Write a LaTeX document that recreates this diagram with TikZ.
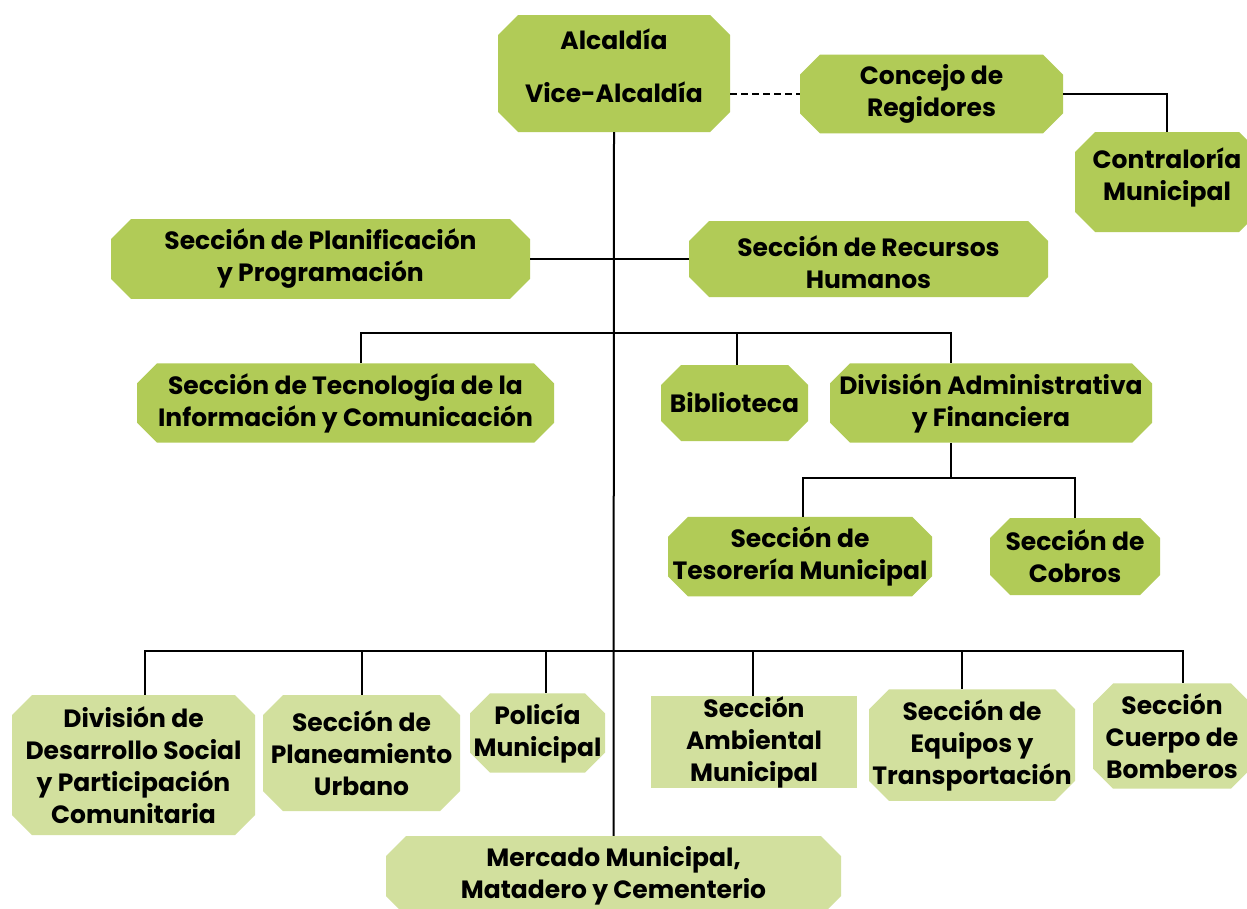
\documentclass[tikz,border=0pt]{standalone}
\usepackage{fontspec}
\setmainfont{Poppins}
\usetikzlibrary{shapes.misc}
\definecolor{dgreen}{HTML}{B1CB57}
\definecolor{lgreen}{HTML}{D2E09E}
\newcommand\shtext[2]{\raisebox{#1}[\height][\depth]{\begin{tabular}{@{}c@{}}#2\end{tabular}}}
\begin{document}
\begin{tikzpicture}[x=1pt,y=-1pt,
  txt/.style={inner sep=0pt, align=center, font=\fontsize{25}{32}\selectfont\bfseries, text=black},
  box/.style={txt, chamfered rectangle, chamfered rectangle xsep=10pt, chamfered rectangle ysep=10pt, inner xsep=-10pt},
  dbox/.style={box, fill=dgreen},
  lbox/.style={box, fill=lgreen},
  conn/.style={line width=2pt, black}]
\useasboundingbox (0,0) rectangle (1247,908);
\clip (0,0) rectangle (1247,908);
\fill[white] (0,0) rectangle (1247,908);
% nodes
\node[dbox, minimum width=232pt, minimum height=117pt] (alc) at (614,73.5) {\shtext{4pt}{Alcaldía\\[21pt]Vice-Alcaldía}};
\node[dbox, minimum width=263pt, minimum height=76pt] (con) at (931.5,94) {Concejo de\\Regidores};
\node[dbox, minimum width=184pt, minimum height=100pt] (ctr) at (1167,182) {\shtext{4pt}{Contraloría\\Municipal}};
\node[dbox, minimum width=419pt, minimum height=76pt] (pla) at (320.5,259) {Sección de Planificación\\y Programación};
\node[dbox, inner ysep=-8pt, minimum width=359pt, minimum height=76pt] (rrh) at (868.5,259) {\shtext{-7pt}{Sección de Recursos\\Humanos}};
\node[dbox, minimum width=417pt, minimum height=76pt] (tec) at (345.5,403) {Sección de Tecnología de la\\Información y Comunicación};
\node[dbox, minimum width=147pt, minimum height=76pt] (bib) at (734.5,403) {Biblioteca};
\node[dbox, minimum width=322pt, minimum height=76pt] (dadm) at (991,403) {División Administrativa\\y Financiera};
\node[dbox, minimum width=264pt, minimum height=77pt] (tes) at (800,556.5) {Sección de\\Tesorería Municipal};
\node[dbox, minimum width=170pt, minimum height=77pt] (cob) at (1075,556.5) {Sección de\\Cobros};
\node[lbox, minimum width=243pt, minimum height=140pt] (dds) at (133.5,765) {División de\\Desarrollo Social\\y Participación\\Comunitaria};
\node[lbox, minimum width=197pt, minimum height=116pt] (pu) at (361.5,753) {Sección de\\Planeamiento\\Urbano};
\node[lbox, minimum width=135pt, minimum height=76pt] (pol) at (537.5,733) {Policía\\Municipal};
\node[txt, rectangle, fill=lgreen, minimum width=206pt, minimum height=90pt] (amb) at (754,742) {Sección\\Ambiental\\Municipal};
\node[lbox, minimum width=206pt, minimum height=100pt] (eq) at (972,745) {Sección de\\Equipos y\\Transportación};
\node[lbox, minimum width=158pt, minimum height=98pt] (bom) at (1172,736) {Sección\\Cuerpo de\\Bomberos};
\node[lbox, minimum width=455pt, minimum height=80pt] (mer) at (613.5,876) {Mercado Municipal,\\Matadero y Cementerio};
% bus coordinates
\coordinate (bus1) at (0,333);
\coordinate (bus2) at (0,478);
\coordinate (bus3) at (0,651);
% connectors
\draw[conn] (alc.south) -- (mer.north);
\draw[conn, line width=1.5pt, dash pattern=on 7pt off 4pt] (con.west -| alc.east) -- (con.west);
\draw[conn] (con.east) -| (ctr.north);
\draw[conn] (pla.east) -- (rrh.west);
\draw[conn] ([xshift=15pt]tec.north) |- ([xshift=-40pt]dadm.north |- bus1) -- ([xshift=-40pt]dadm.north);
\draw[conn] ([xshift=2pt]bib.north) -- ([xshift=2pt]bib.north |- bus1);
\draw[conn] ([xshift=-40pt]dadm.south) -- ([xshift=-40pt]dadm.south |- bus2);
\draw[conn] ([xshift=3pt]tes.north) |- (cob.north |- bus2) -- (cob.north);
\draw[conn] ([xshift=11.5pt]dds.north) |- ([xshift=11pt]bom.north |- bus3) -- ([xshift=11pt]bom.north);
\draw[conn] (pu.north) -- (pu.north |- bus3);
\draw[conn] ([xshift=8.5pt]pol.north) -- ([xshift=8.5pt]pol.north |- bus3);
\draw[conn] ([xshift=-1pt]amb.north) -- ([xshift=-1pt]amb.north |- bus3);
\draw[conn] ([xshift=-10pt]eq.north) -- ([xshift=-10pt]eq.north |- bus3);
\end{tikzpicture}
\end{document}
